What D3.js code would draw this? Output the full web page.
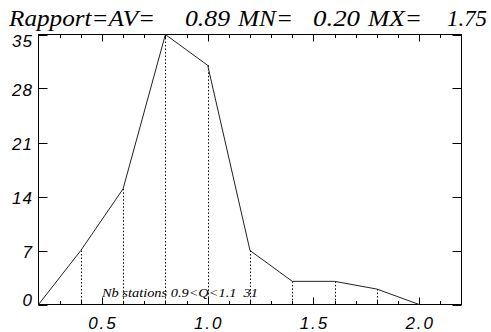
<!DOCTYPE html>
<html><head><meta charset="utf-8">
<script src="https://cdn.jsdelivr.net/npm/d3@7"></script>
<style>
html,body{margin:0;padding:0;background:#fff;}
svg{display:block;}
text{fill:#000;}
</style></head>
<body>
<svg id="c" width="491" height="332"></svg>
<script>
const xValues = [0.2, 0.4, 0.6, 0.8, 1.0, 1.2, 1.4, 1.6, 1.8, 2.0];
const counts  = [0, 7, 15, 35, 31, 7, 3, 3, 2, 0];
const yTicks = [0, 7, 14, 21, 28, 35];
const xMajorTicks = [0.5, 1.0, 1.5, 2.0];
const xMinorTicks = [0.3,0.4,0.6,0.7,0.8,0.9,1.1,1.2,1.3,1.4,1.6,1.7,1.8,1.9,2.1];
const titleTokens = ["Rapport=AV=", "0.89", "MN=", "0.20", "MX=", "1.75"];
const noteText = "Nb stations 0.9<Q<1.1  31";

// layout of title tokens (start x, width)
const titleLayout = [[9, 146], [185, 45], [238, 55], [313, 47], [368, 54], [447, 40]];

const svg = d3.select("#c");
const L = 38.5, R = 461.5, T = 34.5, B = 304.5;
const x = d3.scaleLinear().domain([0.2, 2.2]).range([L, R]);
const y = d3.scaleLinear().domain([0, 35]).range([B, T]);

// title
const tt = svg.append("text").attr("y", 26)
  .attr("font-family", "Liberation Serif").attr("font-style", "italic")
  .attr("font-size", 23);
titleTokens.forEach((t, i) => {
  tt.append("tspan").attr("x", titleLayout[i][0])
    .attr("textLength", titleLayout[i][1]).attr("lengthAdjust", "spacingAndGlyphs")
    .text(t);
});

// box
svg.append("rect").attr("x", L).attr("y", T).attr("width", R - L).attr("height", B - T)
  .attr("fill", "none").attr("stroke", "#000").attr("stroke-width", 1);

const g = svg.append("g").attr("stroke", "#000").attr("stroke-width", 1);
xMajorTicks.forEach(v => {
  const px = Math.round(x(v)) + 0.5;
  g.append("line").attr("x1", px).attr("x2", px).attr("y1", B).attr("y2", B - 7);
  g.append("line").attr("x1", px).attr("x2", px).attr("y1", T).attr("y2", T + 7);
});
xMinorTicks.forEach(v => {
  const px = Math.round(x(v)) + 0.5;
  g.append("line").attr("x1", px).attr("x2", px).attr("y1", B).attr("y2", B - 3.5);
  g.append("line").attr("x1", px).attr("x2", px).attr("y1", T).attr("y2", T + 3.5);
});
yTicks.forEach(v => {
  const py = Math.round(y(v)) + 0.5;
  g.append("line").attr("x1", L).attr("x2", L + 9).attr("y1", py).attr("y2", py);
  g.append("line").attr("x1", R).attr("x2", R - 9).attr("y1", py).attr("y2", py);
});

// x labels
svg.append("g").selectAll("text").data(xMajorTicks).join("text")
  .attr("x", d => x(d) + 1).attr("y", 329)
  .attr("text-anchor", "middle")
  .attr("font-family", "Liberation Sans").attr("font-style", "italic")
  .attr("font-size", 17).attr("letter-spacing", 2)
  .text(d => d3.format(".1f")(d));

// y labels
svg.append("g").selectAll("text").data(yTicks).join("text")
  .attr("x", 33).attr("y", d => Math.min(Math.max(y(d) + 7, 47), 306))
  .attr("text-anchor", "end")
  .attr("font-family", "Liberation Sans").attr("font-style", "italic")
  .attr("font-size", 17).attr("letter-spacing", 1)
  .text(d => d);

// dotted drop lines
svg.append("g").selectAll("line").data(xValues.map((v, i) => [v, counts[i]]).filter(d => d[1] > 0))
  .join("line")
  .attr("x1", d => Math.round(x(d[0])) + 0.5).attr("x2", d => Math.round(x(d[0])) + 0.5)
  .attr("y1", d => y(d[1])).attr("y2", B)
  .attr("stroke", "#000").attr("stroke-width", 1).attr("stroke-dasharray", "1.5,2");

// data line
svg.append("path").datum(xValues.map((v, i) => [v, counts[i]]))
  .attr("d", d3.line().x(d => x(d[0])).y(d => y(d[1])))
  .attr("fill", "none").attr("stroke", "#222").attr("stroke-width", 1);

// annotation
svg.append("text").attr("x", 102).attr("y", 297)
  .attr("font-family", "Liberation Serif").attr("font-style", "italic")
  .attr("font-size", 12).attr("xml:space", "preserve").style("white-space", "pre")
  .attr("textLength", 156).attr("lengthAdjust", "spacingAndGlyphs")
  .text(noteText);
</script>
</body></html>
